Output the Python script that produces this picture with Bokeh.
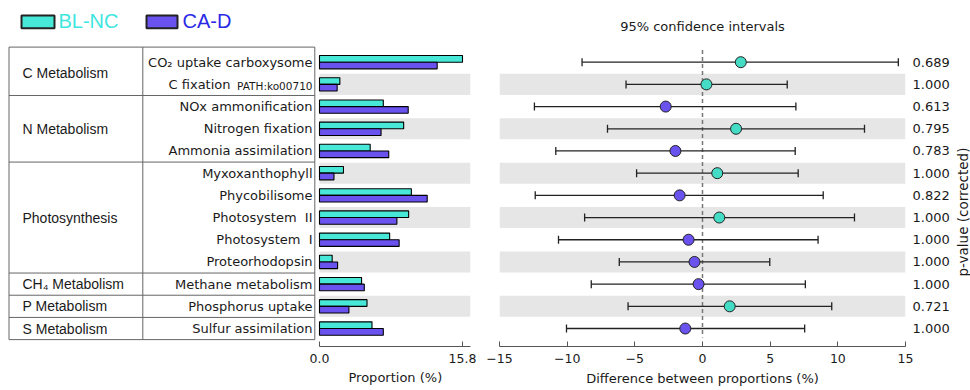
import math
from bokeh.plotting import figure
from bokeh.layouts import row
from bokeh.models import Range1d, LinearAxis, FixedTicker, PrintfTickFormatter, Title
from bokeh.core.properties import value
from bokeh.embed import file_html
from bokeh.resources import INLINE

# ---------------- data ----------------
groups = ["C Metabolism", "N Metabolism", "Photosynthesis", "CH\u2084 Metabolism", "P Metabolism", "S Metabolism"]
group_sizes = [2, 3, 5, 1, 1, 1]

features = ["CO\u2082 uptake carboxysome", "C fixation", "NOx ammonification", "Nitrogen fixation",
            "Ammonia assimilation", "Myxoxanthophyll", "Phycobilisome", "Photosystem\u00a0\u00a0II",
            "Photosystem\u00a0\u00a0I", "Proteorhodopsin", "Methane metabolism", "Phosphorus uptake",
            "Sulfur assimilation"]
feature_note = "PATH:ko00710"   # small suffix on row 1

bl_nc = [15.8, 2.25, 7.05, 9.3, 5.6, 2.65, 10.15, 9.85, 7.75, 1.4, 4.65, 5.25, 5.8]
ca_d = [13.0, 1.95, 9.8, 6.8, 7.65, 1.6, 11.9, 8.55, 8.8, 2.0, 4.95, 3.25, 7.05]

diff = [2.83, 0.29, -2.72, 2.48, -2.0, 1.09, -1.69, 1.24, -1.03, -0.59, -0.29, 2.01, -1.27]
ci_low = [-8.9, -5.65, -12.42, -7.02, -10.84, -4.87, -12.36, -8.71, -10.64, -6.15, -8.22, -5.5, -10.05]
ci_high = [14.47, 6.26, 6.9, 11.97, 6.85, 7.07, 8.92, 11.23, 8.54, 4.97, 7.6, 9.55, 7.55]
pvals = ["0.689", "1.000", "0.613", "0.795", "0.783", "1.000", "0.822", "1.000",
         "1.000", "1.000", "1.000", "0.721", "1.000"]

bar_ticks = [0, 15.8]
diff_ticks = [-15, -10, -5, 0, 5, 10, 15]
series_names = ["BL-NC", "CA-D"]

# ---------------- styles ----------------
CYAN = "#48e8d8"
PURPLE = "#6a52ee"
CYAN_PT = "#44dcc4"
BAND = "#e6e6e6"
TABLE_LINE = "#666666"
TXT = "#1a1a1a"
LEG_TXT = ["#3ee6e0", "#2a2ae6"]
FIG_H = 390
BOTTOM = 44

idx = list(range(len(features)))
band_rows = idx[1::2]

y_range = Range1d(start=12.81, end=-2.78)

# ---------------- left figure: legend, table, bars ----------------
p1 = figure(width=478, height=FIG_H, x_range=Range1d(-35.246, 16.684), y_range=y_range,
            output_backend="svg", toolbar_location=None, x_axis_type=None, y_axis_type=None,
            min_border_left=0, min_border_right=8, min_border_top=0, min_border_bottom=BOTTOM)
p1.outline_line_color = None
p1.extra_x_ranges = {"page": Range1d(0, 470)}

p1.hbar(y=band_rows, left=0, right=p1.x_range.end, height=0.95, fill_color=BAND, line_color=None)
p1.hbar(y=[i - 0.15 for i in idx], left=0, right=bl_nc, height=0.3,
        fill_color=CYAN, line_color="black", line_width=1.1)
p1.hbar(y=[i + 0.15 for i in idx], left=0, right=ca_d, height=0.3,
        fill_color=PURPLE, line_color="black", line_width=1.1)

# table
T_LEFT, T_MID, T_RIGHT = 8.5, 142.3, 314.3
T_TOP, T_BOT = -0.68, len(features) - 0.5
p1.quad(left=[T_LEFT], right=[T_RIGHT], top=[T_TOP], bottom=[T_BOT], fill_color=None,
        line_color=TABLE_LINE, line_width=1, x_range_name="page")
p1.segment(x0=[T_MID], x1=[T_MID], y0=[T_TOP], y1=[T_BOT], line_color=TABLE_LINE,
           line_width=1, x_range_name="page")
cum = []
s = 0
for g in group_sizes[:-1]:
    s += g
    cum.append(s - 0.5)
p1.segment(x0=[T_LEFT] * len(cum), x1=[T_RIGHT] * len(cum), y0=cum, y1=cum,
           line_color=TABLE_LINE, line_width=1, x_range_name="page")

gy = []
s = 0
for g in group_sizes:
    gy.append(s + (g - 1) / 2)
    s += g
p1.text(x=[22] * len(groups), y=gy, text=groups, text_font=value("Liberation Sans"),
        text_font_size="14px", text_color=TXT, text_baseline="middle", text_align="left",
        x_range_name="page")

p1.text(x=[312] * len(features), y=idx,
        text=[f if i != 1 else "" for i, f in enumerate(features)],
        text_font=value("DejaVu Sans"), text_font_size="13px", text_color=TXT,
        text_baseline="middle", text_align="right", x_range_name="page")
p1.text(x=[230], y=[1], text=[features[1]], text_font=value("DejaVu Sans"), text_font_size="13px",
        text_color=TXT, text_baseline="middle", text_align="right", x_range_name="page")
p1.text(x=[312], y=[1.05], text=[feature_note], text_font=value("DejaVu Sans"), text_font_size="10.5px",
        text_color=TXT, text_baseline="middle", text_align="right", x_range_name="page")

# legend
LEG_Y = -1.82
p1.quad(left=[21, 146], right=[54, 177], top=[LEG_Y - 0.285] * 2, bottom=[LEG_Y + 0.285] * 2,
        fill_color=[CYAN, PURPLE], line_color="#222222", line_width=2, x_range_name="page")
p1.text(x=[58, 182], y=[LEG_Y - 0.03] * 2, text=series_names, text_color=LEG_TXT,
        text_font=value("Liberation Sans"), text_font_size="20px", text_baseline="middle",
        text_align="left", x_range_name="page")

ax1 = LinearAxis(ticker=FixedTicker(ticks=bar_ticks), formatter=PrintfTickFormatter(format="%.1f"),
                 bounds=(0, p1.x_range.end))
p1.add_layout(ax1, "below")
t1 = Title(text="Proportion (%)", align="left", offset=348, standoff=5,
           text_font="DejaVu Sans", text_font_size="13px", text_font_style="normal", text_color=TXT)
p1.add_layout(t1, "below")

# ---------------- right figure: confidence intervals ----------------
p3 = figure(width=475, height=FIG_H, x_range=Range1d(-15, 15), y_range=y_range,
            output_backend="svg", toolbar_location=None, x_axis_type=None, y_axis_type=None,
            min_border_left=21, min_border_right=48, min_border_top=0, min_border_bottom=BOTTOM)
p3.outline_line_color = None

p3.hbar(y=band_rows, left=-15, right=15, height=0.95, fill_color=BAND, line_color=None)
p3.segment(x0=[0], x1=[0], y0=[-0.55], y1=[12.4], line_color="#777777", line_width=1.5,
           line_dash="4 3")
p3.segment(x0=ci_low, x1=ci_high, y0=idx, y1=idx, line_color="#222222", line_width=1.3)
p3.segment(x0=ci_low, x1=ci_low, y0=[i - 0.18 for i in idx], y1=[i + 0.18 for i in idx],
           line_color="#222222", line_width=1.3)
p3.segment(x0=ci_high, x1=ci_high, y0=[i - 0.18 for i in idx], y1=[i + 0.18 for i in idx],
           line_color="#222222", line_width=1.3)
p3.scatter(x=diff, y=idx, size=11, fill_color=[CYAN_PT if d > 0 else PURPLE for d in diff],
           line_color="#222222", line_width=1)
p3.text(x=[0], y=[-1.61], text=["95% confidence intervals"], text_font=value("DejaVu Sans"),
        text_font_size="13px", text_color=TXT, text_baseline="middle", text_align="center")

ax3 = LinearAxis(ticker=FixedTicker(ticks=diff_ticks),
                 major_label_overrides={t: ("\u2212" + str(abs(t))) for t in diff_ticks if t < 0},
                 axis_label="Difference between proportions (%)")
p3.add_layout(ax3, "below")

ax_r = LinearAxis(ticker=FixedTicker(ticks=idx),
                  major_label_overrides={i: p for i, p in enumerate(pvals)})
p3.add_layout(ax_r, "right")

for ax in (ax1, ax3):
    ax.axis_line_color = "#555555"
    ax.major_tick_line_color = "#555555"
    ax.major_tick_in = 5
    ax.major_tick_out = 0
    ax.minor_tick_line_color = None
    ax.major_label_standoff = 7
    ax.major_label_text_font = "DejaVu Sans"
    ax.major_label_text_font_size = "12.5px"
    ax.major_label_text_color = TXT
    ax.axis_label_standoff = 5
    ax.axis_label_text_font = "DejaVu Sans"
    ax.axis_label_text_font_size = "13px"
    ax.axis_label_text_font_style = "normal"
    ax.axis_label_text_color = TXT

ax_r.axis_line_color = None
ax_r.major_tick_line_color = None
ax_r.minor_tick_line_color = None
ax_r.major_tick_in = 0
ax_r.major_tick_out = 0
ax_r.major_label_standoff = 7
ax_r.major_label_text_font = "DejaVu Sans"
ax_r.major_label_text_font_size = "13px"
ax_r.major_label_text_color = TXT

# ---------------- narrow strip: rotated p-value title ----------------
p4 = figure(width=17, height=FIG_H, x_range=Range1d(0, 1), y_range=y_range,
            output_backend="svg", toolbar_location=None, x_axis_type=None, y_axis_type=None,
            min_border_left=0, min_border_right=0, min_border_top=0, min_border_bottom=BOTTOM)
p4.outline_line_color = None
p4.text(x=[0.53], y=[6.75], text=["p-value (corrected)"], angle=math.pi / 2,
        text_font=value("DejaVu Sans"), text_font_size="13.5px", text_color=TXT,
        text_align="center", text_baseline="middle")

layout = row(p1, p3, p4)
open("out.html", "w").write(file_html(layout, INLINE))
